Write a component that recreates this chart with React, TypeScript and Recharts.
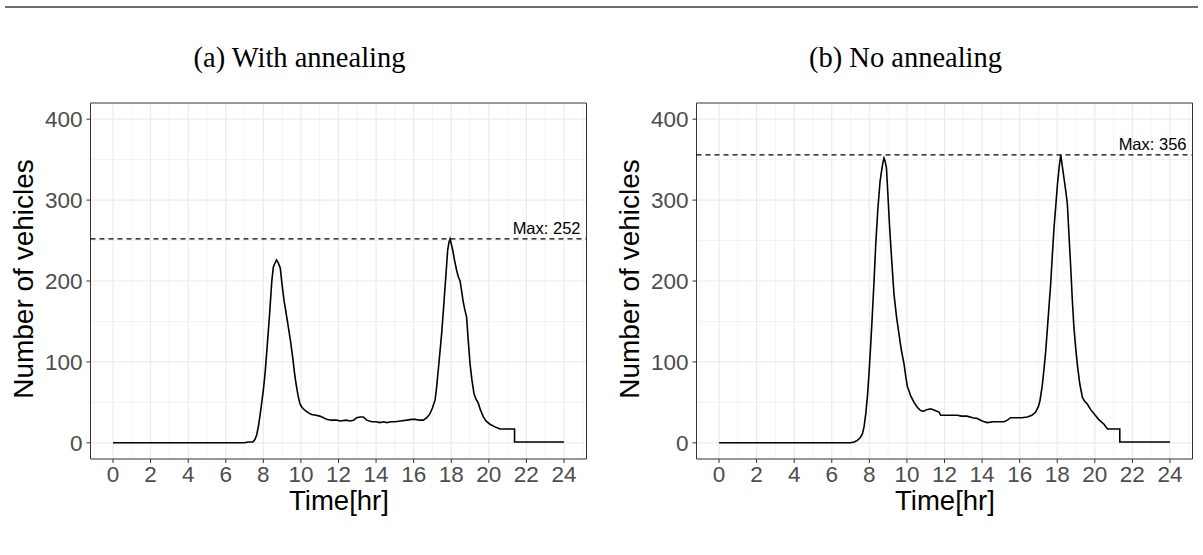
import {
  CartesianGrid,
  Line,
  LineChart,
  ReferenceArea,
  ReferenceLine,
  XAxis,
  YAxis,
} from 'recharts'

// (a) with annealing
const HOURS_A = [
  0, 7.0, 7.2, 7.45, 7.55, 7.65, 7.75, 7.86, 8.0, 8.1, 8.2, 8.32, 8.45, 8.53,
  8.6, 8.7, 8.8, 8.9, 9.0, 9.1, 9.2, 9.33, 9.45, 9.56, 9.65, 9.74, 9.85, 9.95,
  10.05, 10.22, 10.4, 10.57, 10.8, 11.0, 11.2, 11.37, 11.6, 11.9, 12.1, 12.4,
  12.61, 12.8, 12.97, 13.15, 13.32, 13.5, 13.77, 14.0, 14.2, 14.4, 14.57, 14.8,
  15.0, 15.3, 15.63, 15.9, 16.1, 16.3, 16.52, 16.7, 16.87, 17.0, 17.14, 17.22,
  17.31, 17.4, 17.49, 17.58, 17.67, 17.75, 17.81, 17.88, 17.94, 18.0, 18.08,
  18.18, 18.29, 18.38, 18.47, 18.55, 18.64, 18.72, 18.82, 18.9, 19.0, 19.1,
  19.21, 19.32, 19.44, 19.55, 19.71, 19.85, 20.06, 20.3, 20.5, 20.6, 21.37,
  21.37, 24,
]
const VEHICLES_A = [
  0, 0, 1, 1, 4, 10, 22, 40, 65, 88, 118, 155, 200, 217, 221, 226, 222, 216,
  195, 176, 162, 143, 125, 106, 88, 73, 58, 48, 44, 40, 37, 35, 34, 33, 31, 29,
  28, 28, 27, 28, 27, 28, 31, 32, 32, 28, 26, 26, 25, 26, 25, 26, 26, 27, 28,
  29, 29, 28, 28, 31, 36, 43, 53, 68, 90, 112, 135, 163, 192, 218, 238, 248,
  252, 246, 238, 225, 213, 205, 200, 188, 174, 165, 155, 128, 98, 78, 61, 54,
  49, 41, 32, 27, 23, 20, 18, 17, 17, 1, 1,
]

// (b) no annealing
const HOURS_B = [
  0, 7.0, 7.2, 7.36, 7.5, 7.63, 7.72, 7.81, 7.9, 7.98, 8.07, 8.16, 8.25, 8.34,
  8.45, 8.57, 8.65, 8.72, 8.78, 8.84, 8.91, 8.98, 9.08, 9.2, 9.31, 9.45, 9.58,
  9.7, 9.85, 9.95, 10.03, 10.1, 10.2, 10.38, 10.55, 10.73, 10.9, 11.05, 11.27,
  11.5, 11.71, 11.8, 12.2, 12.69, 12.9, 13.2, 13.5, 13.75, 14.0, 14.28, 14.6,
  14.9, 15.17, 15.35, 15.52, 15.8, 16.1, 16.41, 16.65, 16.85, 17.0, 17.08, 17.2,
  17.3, 17.39, 17.52, 17.65, 17.74, 17.83, 17.92, 18.01, 18.1, 18.19, 18.27,
  18.36, 18.45, 18.54, 18.63, 18.72, 18.8, 18.89, 18.98, 19.07, 19.2, 19.34,
  19.47, 19.6, 19.78, 19.96, 20.2, 20.49, 20.67, 21.33, 21.33, 24,
]
const VEHICLES_B = [
  0, 0, 1, 3, 6, 11, 20, 36, 58, 85, 120, 159, 200, 245, 288, 323, 336, 346,
  352, 348, 340, 310, 266, 222, 184, 155, 134, 115, 97, 80, 69, 65, 58, 50, 44,
  40, 39, 41, 42, 40, 38, 34, 34, 34, 33, 33, 31, 30, 27, 25, 26, 26, 26, 28,
  31, 31, 31, 32, 34, 38, 45, 52, 70, 92, 114, 155, 196, 232, 266, 292, 319,
  340, 356, 342, 327, 312, 295, 255, 216, 178, 142, 118, 97, 73, 56, 51, 48, 41,
  36, 29, 23, 17, 17, 1, 1,
]

const MAX_A = 252
const MAX_B = 356

const X_TICKS = [0, 2, 4, 6, 8, 10, 12, 14, 16, 18, 20, 22, 24]
const X_MINOR = [-1, 1, 3, 5, 7, 9, 11, 13, 15, 17, 19, 21, 23, 25]
const Y_TICKS = [0, 100, 200, 300, 400]
const Y_MINOR = [50, 150, 250, 350]

const SANS = '"Liberation Sans", Arial, Helvetica, sans-serif'
const SERIF = '"Liberation Serif", "Times New Roman", serif'

const MaxLabel = (props: any) => {
  const vb = props.viewBox || { x: 0, y: 0, width: 0 }
  return (
    <text
      x={vb.x + vb.width - 6}
      y={vb.y - 5}
      textAnchor="end"
      fontFamily={SANS}
      fontSize={16.5}
      fill="#000"
    >
      {props.text}
    </text>
  )
}

function Panel({
  left,
  title,
  hours,
  vehicles,
  max,
}: {
  left: number
  title: string
  hours: number[]
  vehicles: number[]
  max: number
}) {
  const data = hours.map((h, i) => ({ hour: h, vehicles: vehicles[i] }))
  const tickStyle = { fontFamily: SANS, fontSize: 22.5, fill: '#4d4d4d' }

  return (
    <div style={{ position: 'absolute', left, top: 0, width: 600, height: 555 }}>
      <svg
        width={600}
        height={555}
        style={{ position: 'absolute', left: 0, top: 0 }}
      >
        <text x={299.5} y={67} textAnchor="middle" fontFamily={SERIF} fontSize={28.5}>
          {title}
        </text>
        <text x={339} y={510} textAnchor="middle" fontFamily={SANS} fontSize={27.5}>
          Time[hr]
        </text>
        <text
          x={33}
          y={279}
          textAnchor="middle"
          fontFamily={SANS}
          fontSize={28}
          transform="rotate(-90 33 279)"
        >
          Number of vehicles
        </text>
      </svg>
      <div style={{ position: 'absolute', left: 0, top: 0 }}>
        <LineChart
          width={600}
          height={555}
          data={data}
          margin={{ top: 103, right: 13.5, bottom: 56, left: 30.5 }}
        >
          <CartesianGrid
            stroke="#ebebeb"
            strokeWidth={0.6}
            verticalValues={X_MINOR}
            horizontalValues={Y_MINOR}
          />
          <CartesianGrid
            stroke="#ebebeb"
            strokeWidth={1.2}
            verticalValues={X_TICKS}
            horizontalValues={Y_TICKS}
          />
          <XAxis
            dataKey="hour"
            type="number"
            domain={[-1.2, 25.2]}
            ticks={X_TICKS}
            height={40}
            axisLine={false}
            tickLine={{ stroke: '#333' }}
            tickSize={4}
            tickMargin={3}
            tick={tickStyle}
            allowDataOverflow
          />
          <YAxis
            type="number"
            domain={[-20, 420]}
            ticks={Y_TICKS}
            width={60}
            axisLine={false}
            tickLine={{ stroke: '#333' }}
            tickSize={4}
            tickMargin={4}
            tick={tickStyle}
            allowDataOverflow
          />
          <ReferenceArea
            x1={-1.2}
            x2={25.2}
            y1={-20}
            y2={420}
            fill="none"
            stroke="#333"
            strokeWidth={1}
          />
          <ReferenceLine
            y={max}
            stroke="#000"
            strokeWidth={1.2}
            strokeDasharray="5 4"
            label={<MaxLabel text={`Max: ${max}`} />}
          />
          <Line
            type="linear"
            dataKey="vehicles"
            stroke="#000"
            strokeWidth={1.6}
            dot={false}
            isAnimationActive={false}
          />
        </LineChart>
      </div>
    </div>
  )
}

export default function App() {
  return (
    <div
      style={{
        position: 'absolute',
        left: 0,
        top: 0,
        width: 1203,
        height: 555,
        background: '#fff',
      }}
    >
      <div
        style={{
          position: 'absolute',
          left: 5,
          top: 6,
          width: 1193,
          height: 2,
          background: '#6e6e6e',
        }}
      />
      <Panel left={0} title="(a) With annealing" hours={HOURS_A} vehicles={VEHICLES_A} max={MAX_A} />
      <Panel left={605.5} title="(b) No annealing" hours={HOURS_B} vehicles={VEHICLES_B} max={MAX_B} />
    </div>
  )
}
